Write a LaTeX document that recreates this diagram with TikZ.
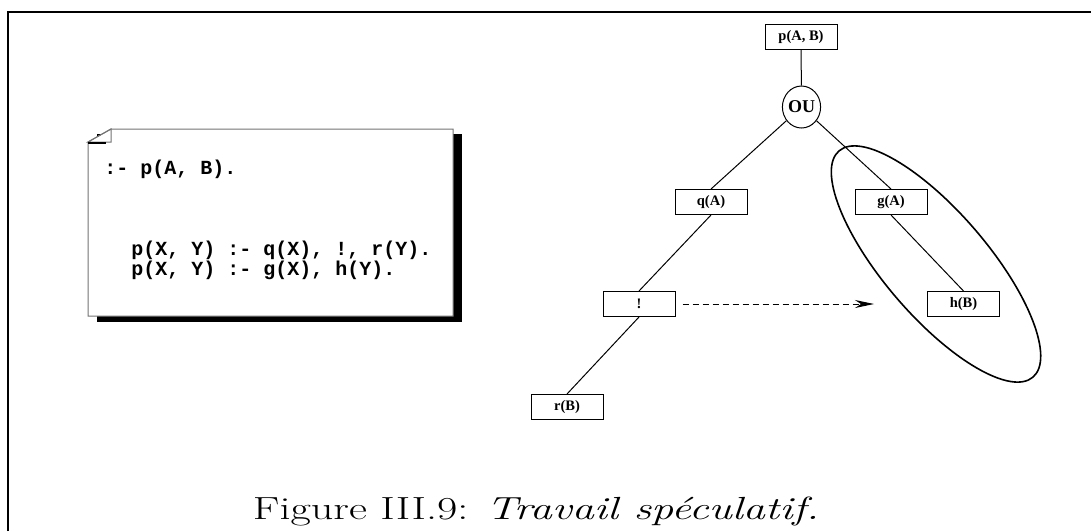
\documentclass[tikz,border=0pt]{standalone}
\usepackage{fontspec}
\newfontfamily\treefont{Liberation Serif}
\newfontfamily\codefont{Liberation Mono}
\usetikzlibrary{arrows.meta,shapes.geometric}
\begin{document}
\begin{tikzpicture}[x=0.5pt,y=-0.5pt,
  tbox/.style={draw,line width=0.5pt,minimum width=36pt,minimum height=12.5pt,inner sep=0pt,font=\treefont\bfseries\fontsize{7.25}{8}\selectfont},
  edge/.style={line width=0.5pt},
  codeline/.style={anchor=base west,inner sep=0pt,font=\codefont\bfseries\fontsize{10}{12}\selectfont},
  notepen/.style={draw=black!55,line width=0.5pt}]
\useasboundingbox (0,0) rectangle (1091,531);
% frame
\draw[line width=1pt] (8,531) -- (8,12) -- (1091,12);
% note with shadow
\fill (97,134) rectangle (462,322);
\filldraw[notepen,fill=white] (111,129) -- (453,129) -- (453,316) -- (88,316) -- (88,142) -- cycle;
\draw[notepen] (88,142) -- (111,129) -- (111,142) -- cycle;
\fill (88,142) rectangle (106,144);
\node[codeline] (l1) at (104,174) {:- p(A, B).};
\node[codeline] (l2) at (131,255) {p(X, Y) :- q(X), !, r(Y).};
\node[codeline] (l3) at (131,275) {p(X, Y) :- g(X), h(Y).};
% tree
\node[tbox] (pAB) at (801,37) {p(A, B)};
\node[draw,ellipse,line width=0.5pt,minimum width=17.5pt,minimum height=21pt,inner sep=0pt,font=\treefont\bfseries\fontsize{9}{10}\selectfont] (ou) at (801.5,107) {OU};
\node[tbox] (qA) at (711,202) {q(A)};
\node[tbox] (gA) at (891,202) {g(A)};
\node[tbox] (cut) at (639,304) {!};
\node[tbox] (hB) at (963.5,304) {h(B)};
\node[tbox] (rB) at (567,407) {r(B)};
\draw[edge] (pAB) -- (ou);
\draw[edge] (ou) -- (qA.north);
\draw[edge] (ou) -- (gA.north);
\draw[edge] (qA.south) -- (cut.north);
\draw[edge] (cut.south) -- (rB.north);
\draw[edge] (gA.south) -- (hB.north);
\coordinate (arrEnd) at (874,304);
\draw[edge,dash pattern=on 3pt off 2pt,-{Stealth[length=9.5pt,width=4pt,inset=3pt]}] ([xshift=3.5pt]cut.east) -- (arrEnd);
\node[draw,ellipse,line width=0.8pt,minimum width=149pt,minimum height=52pt,inner sep=0pt,rotate=-49.4] (grp) at (936,264) {};
% caption
\node[font=\fontsize{16}{19}\selectfont,anchor=base,inner sep=0pt,xscale=1.38,transform shape] (cap) at (536,519) {Figure III.9: \textit{Travail spéculatif.}};
\end{tikzpicture}
\end{document}
